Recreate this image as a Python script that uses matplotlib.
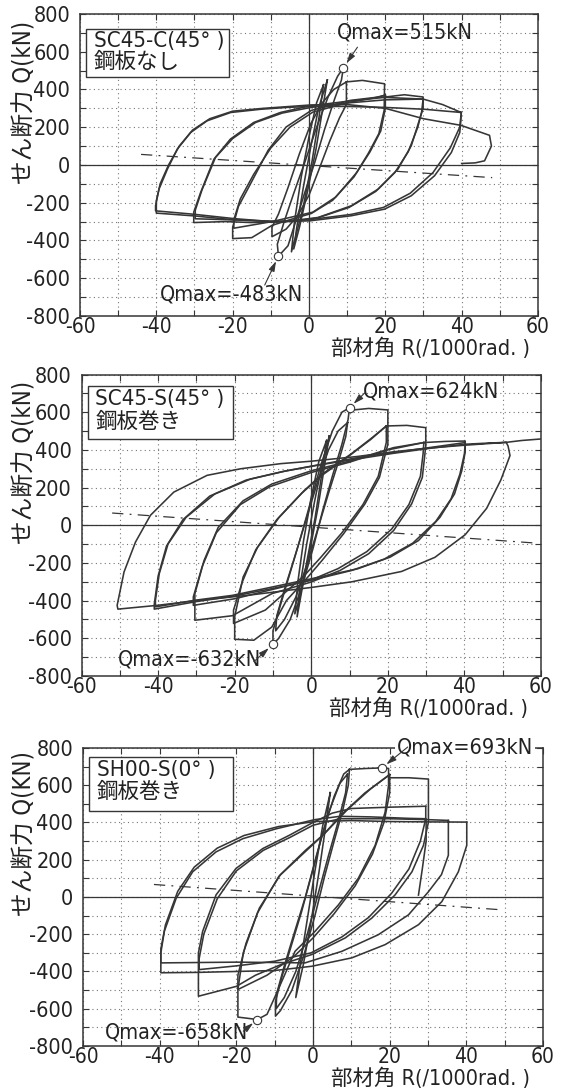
import matplotlib
matplotlib.use('Agg')
import matplotlib.pyplot as plt
from matplotlib.ticker import MultipleLocator
from matplotlib.patches import Rectangle

plt.rcParams['font.family'] = ['DejaVu Sans', 'Noto Sans CJK JP']
plt.rcParams['font.stretch'] = 'condensed'
plt.rcParams['axes.unicode_minus'] = False

# ---------------- data ----------------
# each loop = one list of R (1/1000 rad) and one list of Q (kN)

# SC45-C (45 deg), no steel plate
sc45c_R = [
    [4.8, 3.6, 1.8, -0.5, -2.5, -4.0, -3.2, -1.5, 0.5, 2.5, 4.8],
    [3.8, 2.6, 0.8, -1.5, -3.5, -4.6, -3.8, -2.0, 0.0, 2.0, 3.8],
    [9.0, 8.5, 6.7, 4.1, 1.5, -1.1, -3.3, -5.5, -8.0, -8.3, -6.5, -4.0, -1.0, 2.0, 5.0, 7.5, 9.0],
    [9.8, 9.8, 8.0, 5.5, 2.5, 0.0, -3.0, -6.0, -9.7, -9.7, -8.0, -5.5, -2.5, 0.5, 3.5, 6.5, 9.8],
    [9.8, 14.0, 19.8, 19.7, 18.3, 15.5, 11.8, 6.2, 0.6, -5.0, -9.7, -15.0, -20.0, -20.0, -18.5,
     -15.3, -10.7, -6.0, 0.6, 10.8, 18.3, 20.0],
    [20.0, 20.0, 18.8, 16.0, 12.5, 7.0, 1.0, -9.7, -19.7, -19.7, -18.0, -14.5, -10.0, -5.0, 1.0,
     10.0, 17.0, 20.0],
    [20.0, 25.0, 29.9, 29.9, 29.0, 26.8, 23.3, 18.1, 11.1, 2.4, -6.3, -15.0, -22.0, -30.2, -30.2,
     -28.4, -24.9, -20.6, -14.5, -7.5, 0.2, 11.1, 19.8, 29.9],
    [29.9, 29.5, 28.5, 26.0, 22.5, 17.5, 10.5, 2.0, -6.5, -18.0, -29.8, -29.8, -28.0, -24.5, -20.0,
     -14.0, -7.0, 0.5, 11.0, 20.0, 29.9],
    [29.9, 35.0, 39.9, 39.8, 39.5, 37.3, 32.9, 26.8, 19.8, 11.1, 0.2, -9.2, -19.7, -30.2, -40.2,
     -40.2, -39.3, -37.1, -34.5, -31.0, -26.7, -20.5, -12.7, -5.7, 0.5, 10.0, 19.8, 30.3, 39.9],
    [39.9, 39.5, 37.0, 32.5, 26.5, 19.5, 11.0, 0.0, -10.0, -20.0, -30.0, -40.0, -40.0, -39.0, -36.8,
     -34.0, -30.5, -26.0, -20.0, -12.0, -5.0, 0.5, 10.0, 20.0, 30.0, 39.8, 47.3, 47.8, 46.0, 43.5, 40.0],
]
sc45c_Q = [
    [450, 300, 80, -150, -330, -445, -330, -120, 100, 300, 450],
    [425, 250, 20, -220, -380, -460, -300, -60, 150, 330, 425],
    [515, 450, 349, 190, 13, -146, -287, -428, -483, -420, -300, -150, 20, 200, 360, 470, 515],
    [440, 320, 250, 130, -30, -160, -270, -340, -380, -330, -260, -120, 60, 220, 330, 400, 440],
    [440, 448, 430, 290, 166, 60, -63, -187, -257, -290, -320, -385, -390, -330, -220,
     -99, 78, 201, 289, 342, 360, 370],
    [370, 300, 180, 70, -40, -170, -250, -300, -335, -290, -180, -50, 90, 200, 280,
     330, 355, 370],
    [360, 372, 360, 300, 243, 102, -22, -128, -216, -278, -301, -305, -300, -305, -250,
     -146, 31, 137, 225, 278, 313, 340, 358, 349],
    [349, 280, 200, 70, -40, -140, -225, -282, -300, -292, -285, -240, -130, 40, 140,
     225, 275, 305, 330, 345, 349],
    [349, 320, 278, 240, 172, 66, -57, -163, -234, -269, -296, -301, -284, -261, -243,
     -216, -128, -22, 84, 172, 234, 278, 295, 305, 310, 310, 305, 295, 278],
    [278, 200, 90, -40, -150, -225, -262, -290, -300, -290, -270, -255, -190, -100, 0,
     100, 185, 245, 285, 300, 310, 318, 320, 300, 245, 210, 157, 100, 22, 11, 8],
]
sc45c_dash_R = [-44, 48]
sc45c_dash_Q = [56, -67]
sc45c_peak_R = [9.0, -8.0]
sc45c_peak_Q = [515, -483]

# SC45-S (45 deg), steel plate jacket
sc45s_R = [
    [4.7, 3.5, 1.8, -0.5, -2.5, -3.7, -3.0, -1.2, 0.8, 2.8, 4.7],
    [4.0, 2.8, 1.0, -1.5, -3.2, -4.3, -3.5, -2.0, 0.0, 2.0, 4.0],
    [10.0, 9.6, 8.0, 5.5, 3.0, 0.5, -2.5, -5.5, -8.5, -10.0, -10.0, -8.0, -5.5, -3.0, -0.5, 2.5,
     5.5, 8.0, 10.0],
    [9.5, 9.0, 7.0, 4.5, 2.0, -1.0, -4.0, -7.0, -9.3, -9.0, -7.0, -4.5, -1.5, 1.5, 4.5, 7.0, 9.5],
    [10.0, 15.0, 20.0, 20.0, 17.8, 14.0, 8.4, 2.8, -0.9, -6.5, -10.3, -15.0, -20.0, -20.0, -17.8,
     -14.0, -8.4, -1.9, 2.8, 10.3, 15.9, 19.6],
    [19.6, 19.6, 17.5, 13.5, 8.0, 2.5, -1.5, -7.0, -12.0, -20.3, -20.3, -18.0, -14.5, -9.0, -2.5,
     2.8, 10.0, 15.5, 19.6],
    [19.6, 25.0, 29.9, 29.9, 29.0, 26.2, 21.5, 15.0, 7.5, 0.0, -10.3, -20.6, -30.4, -30.4, -28.0,
     -24.3, -17.8, -10.3, 0.0, 10.3, 21.5, 29.4],
    [29.4, 29.2, 28.5, 25.5, 21.0, 14.5, 7.0, 0.0, -10.0, -20.0, -30.8, -30.8, -28.5, -24.8, -18.5,
     -10.8, 0.0, 10.0, 20.0, 29.4],
    [29.4, 35.0, 40.2, 40.2, 39.3, 37.4, 33.6, 28.0, 20.6, 12.1, 0.0, -10.3, -20.6, -30.4, -40.7,
     -40.7, -39.7, -37.4, -32.7, -25.2, -15.9, -6.5, 2.8, 12.1, 21.5, 30.8, 40.2],
    [40.2, 40.0, 38.8, 36.5, 32.5, 26.5, 19.0, 10.5, 0.0, -10.0, -20.0, -30.0, -41.0, -41.0, -40.0,
     -37.8, -33.5, -26.5, -17.0, -7.5, 2.0, 12.0, 21.5, 30.8, 40.2],
    [40.2, 45.0, 50.9, 51.4, 51.9, 49.5, 45.8, 40.2, 32.3, 23.6, 10.6, 0.0, -15.9, -29.9, -40.2,
     -50.5, -50.7, -48.9, -45.9, -42.0, -35.9, -27.2, -18.4, -8.0, 0.0, 12.0, 21.5, 30.8, 40.2,
     50.9, 55.0, 60.0],
]
sc45s_Q = [
    [474, 320, 100, -150, -350, -486, -330, -100, 120, 320, 474],
    [450, 280, 40, -230, -400, -470, -300, -80, 150, 340, 450],
    [624, 560, 430, 260, 80, -120, -330, -500, -600, -632, -560, -420, -250, -80, 100, 320,
     500, 600, 624],
    [545, 470, 330, 170, 0, -200, -380, -500, -560, -480, -340, -180, 20, 220, 400, 500, 545],
    [610, 620, 612, 430, 254, 113, -46, -187, -275, -400, -540, -610, -605, -486, -275,
     -116, 42, 183, 271, 377, 465, 527],
    [527, 440, 260, 110, -40, -170, -260, -360, -450, -521, -450, -300, -130, 30, 170,
     265, 370, 455, 527],
    [527, 530, 518, 420, 254, 113, -28, -151, -240, -301, -363, -480, -504, -363, -187,
     -11, 130, 219, 289, 342, 412, 439],
    [439, 380, 260, 110, -20, -140, -230, -290, -340, -390, -425, -380, -220, -40, 110,
     205, 280, 335, 400, 439],
    [439, 445, 447, 390, 289, 166, 42, -81, -169, -231, -284, -328, -372, -398, -433,
     -398, -257, -99, 42, 166, 245, 289, 324, 359, 386, 412, 439],
    [439, 380, 270, 140, 20, -95, -180, -240, -292, -335, -375, -405, -445, -420, -270,
     -110, 30, 155, 240, 285, 320, 352, 382, 408, 430],
    [430, 435, 440, 420, 370, 240, 90, -50, -170, -245, -300, -330, -370, -400, -425,
     -445, -425, -248, -89, 53, 176, 265, 300, 327, 340, 365, 390, 410, 425,
     440, 450, 458],
]
sc45s_dash_R = [-52, 59]
sc45s_dash_Q = [65, -95]
sc45s_peak_R = [10.0, -10.0]
sc45s_peak_Q = [624, -632]

# SH00-S (0 deg), steel plate jacket
sh00s_R = [
    [4.5, 3.3, 1.6, -0.5, -2.5, -4.5, -3.5, -1.5, 0.5, 2.5, 4.5],
    [9.5, 9.2, 7.8, 5.5, 3.0, 0.5, -2.5, -5.5, -8.5, -9.8, -9.8, -8.0, -5.5, -3.0, -0.5, 2.5,
     5.5, 8.0, 9.5],
    [9.0, 8.5, 6.5, 4.0, 1.5, -1.5, -4.5, -7.5, -9.6, -9.5, -7.5, -5.0, -2.0, 1.0, 4.0, 7.0, 9.0],
    [9.5, 14.0, 18.0, 19.7, 19.7, 18.8, 16.2, 11.8, 6.6, 0.5, -4.7, -9.8, -12.0, -14.5, -19.6,
     -19.6, -18.2, -14.5, -8.9, -2.4, 2.3, 7.9, 13.5, 18.2, 20.0],
    [20.0, 20.0, 18.5, 15.5, 11.0, 5.5, 0.0, -5.0, -12.0, -19.6, -19.6, -17.5, -14.0, -8.5, -2.0,
     3.0, 9.0, 15.0, 20.0],
    [20.0, 25.0, 30.1, 30.1, 28.8, 25.8, 21.4, 15.3, 8.4, -0.3, -8.0, -15.0, -20.0, -29.9, -29.9,
     -28.8, -25.3, -20.1, -13.1, -6.2, 0.0, 5.0, 10.0, 20.0, 29.4],
    [29.4, 29.4, 28.0, 25.0, 20.5, 14.5, 7.5, -0.5, -10.0, -20.0, -29.7, -29.7, -28.5, -25.0, -20.0,
     -13.0, -6.0, 0.0, 7.0, 20.0, 30.0, 35.3],
    [35.3, 35.3, 33.5, 30.1, 24.9, 17.0, 7.5, -2.1, -10.0, -20.0, -30.0, -39.7, -39.7, -38.5, -35.3,
     -31.0, -25.0, -18.0, -9.0, 0.5, 10.0, 20.0, 30.0, 40.1],
    [40.1, 40.1, 37.9, 33.6, 27.5, 18.8, 10.1, -0.3, -10.0, -20.0, -30.0, -39.7, -39.7, -38.8, -35.7,
     -31.4, -25.3, -18.3, -9.6, 0.4, 7.0, 15.0, 25.0, 29.5, 29.5, 28.5, 27.5],
]
sh00s_Q = [
    [560, 380, 140, -130, -360, -540, -380, -120, 140, 380, 560],
    [685, 600, 470, 300, 110, -100, -320, -500, -610, -640, -560, -420, -250, -80, 110, 340,
     540, 660, 685],
    [660, 560, 400, 220, 30, -200, -400, -540, -600, -520, -370, -200, 0, 230, 450, 610, 660],
    [685, 690, 693, 690, 600, 455, 277, 100, -43, -185, -292, -530, -630, -658, -645,
     -497, -300, -86, 111, 236, 326, 451, 558, 630, 657],
    [657, 560, 400, 230, 60, -90, -220, -320, -420, -497, -420, -250, -60, 120, 250,
     340, 470, 580, 657],
    [640, 640, 633, 402, 277, 135, 11, -114, -220, -309, -360, -420, -480, -533, -300,
     -185, 11, 153, 260, 331, 400, 450, 475, 482, 487],
    [487, 420, 300, 150, 20, -110, -215, -300, -345, -370, -390, -330, -200, -10, 140,
     250, 320, 385, 420, 420, 415, 411],
    [411, 224, 120, 28, -96, -203, -292, -354, -352, -350, -352, -354, -280, -150, 30,
     160, 262, 330, 378, 405, 410, 405, 403, 402],
    [402, 277, 135, -25, -149, -256, -327, -372, -395, -400, -405, -407, -300, -185, -7,
     135, 242, 313, 366, 415, 433, 430, 422, 420, 300, 150, 10],
]
sh00s_dash_R = [-41.5, 48.5]
sh00s_dash_Q = [67, -68]
sh00s_peak_R = [18.0, -14.5]
sh00s_peak_Q = [693, -658]

x_ticks = [-60, -40, -20, 0, 20, 40, 60]
y_ticks = [-800, -600, -400, -200, 0, 200, 400, 600, 800]
panel_titles = ['SC45-C(45° )', 'SC45-S(45° )', 'SH00-S(0° )']
panel_subtitles = ['鋼板なし', '鋼板巻き', '鋼板巻き']
ylabels = ['せん断力 Q(kN)', 'せん断力 Q(kN)', 'せん断力 Q(KN)']
xlabel = '部材角 R(/1000rad. )'

# ---------------- figure ----------------
fig = plt.figure(figsize=(5.61, 10.9), dpi=100)
ink = '#363636'

axes_rects = [[0.1426, 0.7101, 0.8164, 0.2771],
              [0.1453, 0.3798, 0.8191, 0.2766],
              [0.1480, 0.0404, 0.8200, 0.2734]]
box_rects = [[0.013, 0.790, 0.312, 0.159],
             [0.0135, 0.785, 0.3155, 0.177],
             [0.012, 0.788, 0.315, 0.183]]
title_y = [(0.910, 0.842), (0.919, 0.843), (0.925, 0.854)]
ylabel_xy = [(-0.122, 0.707), (-0.125, 0.708), (-0.128, 0.713)]
# x label sits with its bottom edge just above the bottom of each panel block
xlabel_xy = [(0.983, -0.142), (0.972, -0.142), (0.971, -0.144)]

all_R = [sc45c_R, sc45s_R, sh00s_R]
all_Q = [sc45c_Q, sc45s_Q, sh00s_Q]
all_dash = [(sc45c_dash_R, sc45c_dash_Q), (sc45s_dash_R, sc45s_dash_Q), (sh00s_dash_R, sh00s_dash_Q)]
all_peak = [(sc45c_peak_R, sc45c_peak_Q), (sc45s_peak_R, sc45s_peak_Q), (sh00s_peak_R, sh00s_peak_Q)]

# annotation layout: (text pos, arrow start) for max and min
ann_layout = [
    [((25, 700), (12.7, 624)), ((-20.2, -684), (-11.6, -636))],
    [((31.3, 708), (14.0, 703)), ((-31.8, -710), (-15.0, -724))],
    [((39.6, 800), (24.7, 805)), ((-35.5, -730), (-18.2, -721))],
]

for i in range(3):
    ax = fig.add_axes(axes_rects[i])
    ax.set_xlim(-60, 60)
    ax.set_ylim(-800, 800)

    ax.set_xticks(x_ticks)
    ax.set_xticklabels([str(v) for v in x_ticks])
    ax.set_yticks(y_ticks)
    ax.set_yticklabels([str(v) for v in y_ticks])
    ax.xaxis.set_minor_locator(MultipleLocator(10))
    ax.yaxis.set_minor_locator(MultipleLocator(100))
    ax.tick_params(which='both', direction='in', length=4, width=0.8, color=ink,
                   top=True, right=True)
    ax.tick_params(axis='x', labelsize=15, pad=1, labelcolor='#222')
    ax.tick_params(axis='y', labelsize=15.5, pad=7, labelcolor='#222')

    ax.grid(which='both', linestyle=(0, (1, 3)), color='#777', linewidth=0.8)
    for s in ax.spines.values():
        s.set_color(ink)
        s.set_linewidth(1.1)
    ax.axhline(0, color=ink, lw=0.9)
    ax.axvline(0, color=ink, lw=0.9)

    for r, q in zip(all_R[i], all_Q[i]):
        ax.plot(r, q, color=ink, lw=1.15, solid_joinstyle='round')

    dr, dq = all_dash[i]
    ax.plot(dr, dq, color=ink, lw=0.9, linestyle=(0, (9, 5, 1.5, 5)))

    pr, pq = all_peak[i]
    ax.plot(pr, pq, 'o', ms=6, mfc='white', mec=ink, mew=0.8, zorder=6)
    for k in range(2):
        (tx, ty), (ax0, ay0) = ann_layout[i][k]
        label = 'Qmax=%dkN' % pq[k]
        bbox = dict(boxstyle='square,pad=0.1', fc='white', ec='none') if ty >= 790 else None
        ax.text(tx, ty, label, fontsize=15.5, ha='center', va='center', color='#222',
                bbox=bbox, zorder=7, clip_on=False)
        ax.annotate('', xy=(pr[k], pq[k]), xytext=(ax0, ay0),
                    arrowprops=dict(arrowstyle='-|>,head_length=0.6,head_width=0.18',
                                    color=ink, lw=0.8, shrinkA=0, shrinkB=4),
                    zorder=7, annotation_clip=False)

    bx = box_rects[i]
    ax.add_patch(Rectangle((bx[0], bx[1]), bx[2], bx[3], transform=ax.transAxes,
                           fc='white', ec=ink, lw=1.0, zorder=5))
    ax.text(0.030, title_y[i][0], panel_titles[i], transform=ax.transAxes, fontsize=16,
            ha='left', va='center', color='#222', zorder=6)
    ax.text(0.030, title_y[i][1], panel_subtitles[i], transform=ax.transAxes, fontsize=15.5,
            ha='left', va='center', color='#222', zorder=6,
            family=['Noto Sans CJK JP', 'DejaVu Sans'])

    ax.text(ylabel_xy[i][0], ylabel_xy[i][1], ylabels[i], transform=ax.transAxes,
            fontsize=17, rotation=90, ha='center', va='center', color='#222')
    ax.text(xlabel_xy[i][0], xlabel_xy[i][1], xlabel, transform=ax.transAxes,
            fontsize=15.5, ha='right', va='bottom', color='#222')

fig.savefig('out.png', dpi=100, facecolor='white')
